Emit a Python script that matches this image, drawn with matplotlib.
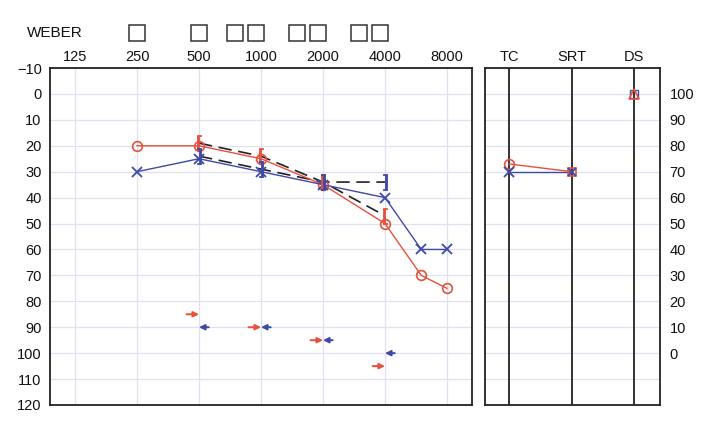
import numpy as np
import matplotlib
matplotlib.use("Agg")
import matplotlib.pyplot as plt
import matplotlib.transforms as mtransforms

plt.rcParams['font.family'] = ['Liberation Sans', 'DejaVu Sans']

RED = '#e8503c'
BLUE = '#3d4aa8'
GRID = '#e0e0f0'
DARK = '#222222'
FS = 10.5

# frequencies on top axis
freq_ticks = [125, 250, 500, 1000, 2000, 4000, 8000]
db_ticks = list(range(-10, 121, 10))

# air conduction
ac_freq = [250, 500, 1000, 2000, 4000, 6000, 8000]
ac_right = [20, 20, 25, 35, 50, 70, 75]
ac_left = [30, 25, 30, 35, 40, 60, 60]

# masked bone conduction
bc_freq = [500, 1000, 2000, 4000]
bc_right = [19, 24, 34, 47]
bc_left = [24, 29, 34, 34]

# unmasked bone conduction (arrows)
arrow_freq = [500, 1000, 2000, 4000]
arrow_right = [85, 90, 95, 105]
arrow_left = [90, 90, 95, 100]

# weber boxes
weber_single = [250, 500, 750, 1500, 3000]
weber_paired = [1000, 2000, 4000]

# speech panel
speech_cols = ['TC', 'SRT', 'DS']
speech_ticks = list(range(0, 101, 10))
tc_right, tc_left = 73, 70
srt_right, srt_left = 70, 70
ds_val = 100

fig = plt.figure(figsize=(7.2, 4.42), dpi=100)
ax = fig.add_axes([50/720, 1-405/442, 422/720, 337/442])
ax2 = fig.add_axes([485/720, 1-405/442, 175/720, 337/442])

# ---- main audiogram ----
ax.set_xscale('log')
ax.set_xlim(94.5, 10580)
ax.set_ylim(120, -10)
ax.set_xticks(freq_ticks)
ax.set_xticklabels([str(f) for f in freq_ticks])
ax.xaxis.set_minor_locator(matplotlib.ticker.NullLocator())
ax.xaxis.tick_top()
ax.set_yticks(db_ticks)
ax.tick_params(axis='both', length=0, labelsize=FS, colors='#111111')
ax.tick_params(axis='x', pad=3)
ax.tick_params(axis='y', pad=6)
ax.grid(True, color=GRID, lw=0.9)
ax.set_axisbelow(True)
for s in ax.spines.values():
    s.set_color(DARK)
    s.set_linewidth(1.3)

ax.plot(ac_freq, ac_right, color=RED, lw=1.0, marker='o', ms=7,
        mfc='none', mew=1.2, zorder=4)
ax.plot(ac_freq, ac_left, color=BLUE, lw=1.0, marker='x', ms=7,
        mew=1.3, zorder=4)

ax.plot(bc_freq, bc_right, color=DARK, lw=1.2, dashes=(8, 4), zorder=3)
ax.plot(bc_freq, bc_left, color=DARK, lw=1.2, dashes=(8, 4), zorder=3)
ax.plot(bc_freq, bc_right, ls='none', marker='$[$', ms=12, color=RED,
        mew=0.6, zorder=5)
ax.plot(bc_freq, bc_left, ls='none', marker='$]$', ms=12, color=BLUE,
        mew=0.6, zorder=5)

for f, v in zip(arrow_freq, arrow_right):
    ax.annotate('', xy=(f, v), xycoords='data',
                xytext=(-9, 0), textcoords='offset points',
                arrowprops=dict(arrowstyle='-|>', color=RED, lw=1.4,
                                mutation_scale=8, shrinkA=0, shrinkB=0))
for f, v in zip(arrow_freq, arrow_left):
    ax.annotate('', xy=(f, v), xycoords='data',
                xytext=(7, 0), textcoords='offset points',
                arrowprops=dict(arrowstyle='-|>', color=BLUE, lw=1.4,
                                mutation_scale=8, shrinkA=0, shrinkB=0))

# weber row
tr = mtransforms.blended_transform_factory(ax.transData, fig.transFigure)
tr_pair = mtransforms.offset_copy(tr, fig=fig, x=-5, units='dots')
ax.plot(weber_single, [1-33/442]*len(weber_single), transform=tr, ls='none',
        marker='s', ms=12, mfc='none', mec='#333333', mew=1.1, clip_on=False)
ax.plot(weber_paired, [1-33/442]*len(weber_paired), transform=tr_pair, ls='none',
        marker='s', ms=12, mfc='none', mec='#333333', mew=1.1, clip_on=False)
fig.text(27/720, 1-33/442, 'WEBER', fontsize=11, va='center', ha='left',
         color='#111111')

# ---- speech panel ----
ax2.set_xlim(-0.384, 2.416)
ax2.set_ylim(-20, 110)
ax2.set_xticks(range(len(speech_cols)))
ax2.set_xticklabels(speech_cols)
ax2.xaxis.tick_top()
ax2.yaxis.tick_right()
ax2.set_yticks(list(range(-10, 111, 10)))
ax2.set_yticklabels([str(v) if v in speech_ticks else '' for v in range(-10, 111, 10)])
ax2.tick_params(axis='both', length=0, labelsize=FS, colors='#111111')
ax2.tick_params(axis='x', pad=3)
ax2.tick_params(axis='y', pad=7)
ax2.grid(True, axis='y', color=GRID, lw=0.9)
ax2.set_axisbelow(True)
for s in ax2.spines.values():
    s.set_color(DARK)
    s.set_linewidth(1.3)
for i in range(len(speech_cols)):
    ax2.axvline(i, color=DARK, lw=1.3, zorder=2)

ax2.plot([0, 1], [tc_right, srt_right], color=RED, lw=1.0, zorder=4)
ax2.plot([0, 1], [tc_left, srt_left], color=BLUE, lw=1.0, zorder=4)
ax2.plot([0], [tc_right], marker='o', ms=7, mfc='none', mec=RED, mew=1.2, zorder=5)
ax2.plot([0], [tc_left], marker='x', ms=7, color=BLUE, mew=1.3, zorder=5)
ax2.plot([1], [srt_right], marker='s', ms=6, mfc='none', mec=RED, mew=1.2, zorder=5)
ax2.plot([1], [srt_left], marker='x', ms=6, color=BLUE, mew=1.3, zorder=5)
ax2.plot([2], [ds_val], marker='s', ms=6, mfc='none', mec=BLUE, mew=1.0, zorder=5)
ax2.plot([2], [ds_val], marker='^', ms=7, mfc='none', mec=RED, mew=1.2, zorder=5)

fig.savefig('out.png', dpi=100)
